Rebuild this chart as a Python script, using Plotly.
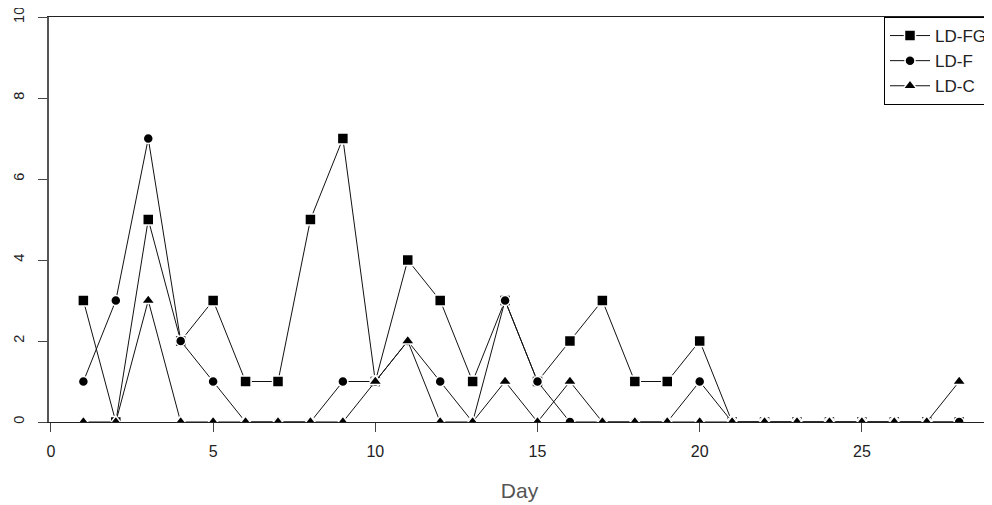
import plotly.graph_objects as go

days = list(range(1, 29))
ld_fg = [3, 0, 5, 2, 3, 1, 1, 5, 7, 1, 4, 3, 1, 3, 1, 2, 3, 1, 1, 2, 0, 0, 0, 0, 0, 0, 0, 0]
ld_f = [1, 3, 7, 2, 1, 0, 0, 0, 1, 1, 2, 1, 0, 3, 1, 0, 0, 0, 0, 1, 0, 0, 0, 0, 0, 0, 0, 0]
ld_c = [0, 0, 3, 0, 0, 0, 0, 0, 0, 1, 2, 0, 0, 1, 0, 1, 0, 0, 0, 0, 0, 0, 0, 0, 0, 0, 0, 1]
series_names = ["LD-FG", "LD-F", "LD-C"]
x_ticks = [0, 5, 10, 15, 20, 25]
y_ticks = [0, 2, 4, 6, 8, 10]

symbols = ["square", "circle", "triangle-up"]
sizes = [11, 10, 12]

fig = go.Figure()
for name, vals, sym, sz in zip(series_names, [ld_fg, ld_f, ld_c], symbols, sizes):
    fig.add_trace(go.Scatter(
        x=days, y=vals, name=name, mode="lines+markers",
        line=dict(color="#111111", width=1),
        marker=dict(symbol=sym, size=sz, color="black",
                    line=dict(color="white", width=1.5)),
        cliponaxis=True,
    ))

# page body has an 8px default margin, so the figure is 8px smaller
fig.update_layout(
    width=984, height=497,
    margin=dict(l=41, r=0, t=9, b=83),
    plot_bgcolor="white", paper_bgcolor="white",
    font=dict(family="Liberation Sans, Arial, sans-serif", size=16, color="#222222"),
    showlegend=True,
    legend=dict(
        x=0.8876, y=1, xanchor="left", yanchor="top",
        bordercolor="black", borderwidth=1, bgcolor="white",
        font=dict(size=17, color="#222222"),
        tracegroupgap=0, itemwidth=40,
    ),
    xaxis=dict(
        range=[-0.06, 28.95], tickvals=x_ticks, ticks="outside", ticklen=9,
        tickcolor="#444444", showgrid=False, zeroline=False, automargin=False,
        showline=True, linecolor="#222222", linewidth=1, mirror=True,
        ticklabelstandoff=6, ticklabeloverflow="allow",
        title=dict(text="Day", font=dict(size=21, color="#555555"), standoff=24),
        tickfont=dict(size=16, color="#222222"),
    ),
    yaxis=dict(
        range=[0, 10], tickvals=y_ticks, ticks="outside", ticklen=9,
        tickcolor="#444444", showgrid=False, zeroline=False, automargin=False,
        showline=True, linecolor="#555555", linewidth=1.5,
        ticklabelstandoff=8, ticklabeloverflow="allow",
        tickangle=-90, tickfont=dict(size=14.5, color="#222222"),
    ),
)

fig.write_html("out.html")
